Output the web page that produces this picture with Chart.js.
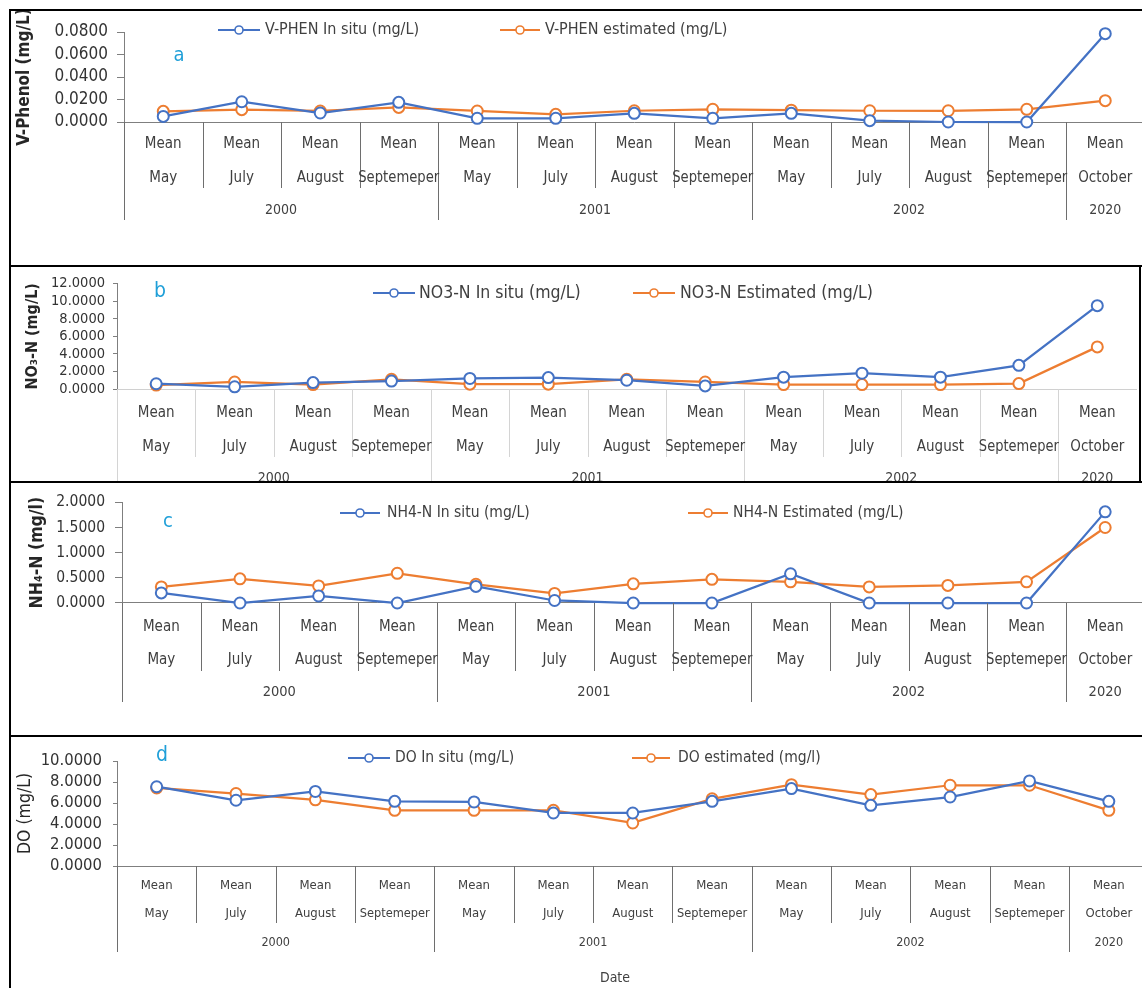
<!DOCTYPE html>
<html>
<head>
<meta charset="utf-8">
<script src="https://cdn.jsdelivr.net/npm/chart.js@4.4.1/dist/chart.umd.min.js"></script>
<style>
  html, body { margin: 0; padding: 0; background: #fff; width: 1142px; height: 988px; overflow: hidden; }
  canvas { position: absolute; left: 0; }
  .rule { position: absolute; background: #000; }
</style>
</head>
<body>
<canvas id="panelA" width="1152" height="254" style="top:11px"></canvas>
<canvas id="panelB" width="1144" height="214" style="top:267px"></canvas>
<canvas id="panelC" width="1152" height="252" style="top:483px"></canvas>
<canvas id="panelD" width="1156" height="251" style="top:737px"></canvas>

<div class="rule" style="left:9px;top:9px;width:1133px;height:2px"></div>
<div class="rule" style="left:9px;top:265px;width:1133px;height:2px"></div>
<div class="rule" style="left:9px;top:481px;width:1133px;height:2px"></div>
<div class="rule" style="left:9px;top:735px;width:1133px;height:2px"></div>
<div class="rule" style="left:9px;top:9px;width:2px;height:979px"></div>
<div class="rule" style="left:1139px;top:265px;width:2px;height:218px"></div>

<script>
// Sampling periods: one mean value per month, grouped by year
const statLabel = 'Mean';
const months = ['May', 'July', 'August', 'Septemeper', 'May', 'July', 'August', 'Septemeper',
                'May', 'July', 'August', 'Septemeper', 'October'];
const years = ['2000', '2000', '2000', '2000', '2001', '2001', '2001', '2001',
               '2002', '2002', '2002', '2002', '2020'];

// (a) volatile phenol, mg/L
const vphenInSitu = [0.0050, 0.0180, 0.0080, 0.0175, 0.0033, 0.0033, 0.0077, 0.0033, 0.0077, 0.0012, 0.0000, 0.0000, 0.0785];
const vphenEstimated = [0.0095, 0.0110, 0.0098, 0.0130, 0.0098, 0.0068, 0.0100, 0.0113, 0.0105, 0.0100, 0.0100, 0.0113, 0.0190];

// (b) nitrate nitrogen, mg/L
const no3InSitu = [0.60, 0.25, 0.73, 0.90, 1.20, 1.30, 1.00, 0.35, 1.35, 1.80, 1.35, 2.70, 9.50];
const no3Estimated = [0.45, 0.80, 0.50, 1.10, 0.55, 0.55, 1.10, 0.80, 0.50, 0.50, 0.50, 0.62, 4.80];

// (c) ammonium nitrogen, mg/L
const nh4InSitu = [0.20, 0.00, 0.14, 0.00, 0.33, 0.05, 0.00, 0.00, 0.58, 0.00, 0.00, 0.00, 1.81];
const nh4Estimated = [0.32, 0.48, 0.34, 0.59, 0.37, 0.19, 0.38, 0.47, 0.42, 0.32, 0.35, 0.42, 1.50];

// (d) dissolved oxygen, mg/L
const doInSitu = [7.55, 6.26, 7.10, 6.16, 6.10, 5.05, 5.05, 6.16, 7.37, 5.78, 6.57, 8.10, 6.16];
const doEstimated = [7.43, 6.90, 6.30, 5.30, 5.30, 5.30, 4.10, 6.40, 7.75, 6.80, 7.69, 7.69, 5.30];

// Value axis ranges
const yMaxA = 0.08, yStepA = 0.02;
const yMaxB = 12, yStepB = 2;
const yMaxC = 2, yStepC = 0.5;
const yMaxD = 10, yStepD = 2;

const FONT = "'DejaVu Sans Condensed', 'DejaVu Sans', sans-serif";
const BLUE = '#4472C4';
const ORANGE = '#ED7D31';
const TEXT = '#404040';

// Draws the grouped category axis (Mean / month / year), the legend and panel letter
const decor = {
  id: 'decor',
  afterDraw(chart, args, o) {
    const ctx = chart.ctx;
    const xs = chart.scales.x;
    const base = xs.top;
    const n = chart.data.labels.length;
    const step = xs.getPixelForValue(1) - xs.getPixelForValue(0);
    ctx.save();

    // separators between categories; longer at year boundaries
    ctx.strokeStyle = o.sepColor;
    ctx.lineWidth = 1;
    for (let i = 0; i < n; i++) {
      const bx = Math.round(xs.getPixelForValue(i) - step / 2) + 0.5;
      const newYear = i === 0 || years[i] !== years[i - 1];
      ctx.beginPath();
      ctx.moveTo(bx, base);
      ctx.lineTo(bx, base + (newYear ? o.yearSep : o.monthSep));
      ctx.stroke();
    }

    // category labels
    ctx.fillStyle = TEXT;
    ctx.textAlign = 'center';
    ctx.textBaseline = 'middle';
    ctx.font = o.catSize + 'px ' + FONT;
    chart.data.labels.forEach((lab, i) => {
      const cx = xs.getPixelForValue(i);
      ctx.fillText(lab[0], cx, base + o.row1, o.maxW);
      ctx.fillText(lab[1], cx, base + o.row2, o.maxW);
    });

    // year labels centred under their group
    ctx.font = o.yearSize + 'px ' + FONT;
    let s = 0;
    for (let i = 1; i <= n; i++) {
      if (i === n || years[i] !== years[s]) {
        const cx = (xs.getPixelForValue(s) + xs.getPixelForValue(i - 1)) / 2;
        ctx.fillText(years[s], cx, base + o.row3);
        s = i;
      }
    }

    // legend
    ctx.textAlign = 'left';
    ctx.font = o.legendSize + 'px ' + FONT;
    o.legend.forEach((it, k) => {
      const ds = chart.data.datasets[k];
      const y = o.legendY;
      ctx.strokeStyle = ds.borderColor;
      ctx.lineWidth = 2;
      ctx.beginPath();
      ctx.moveTo(it.x0, y);
      ctx.lineTo(it.x1, y);
      ctx.stroke();
      ctx.beginPath();
      ctx.arc((it.x0 + it.x1) / 2, y, 4, 0, Math.PI * 2);
      ctx.fillStyle = '#fff';
      ctx.fill();
      ctx.lineWidth = 1.6;
      ctx.stroke();
      ctx.fillStyle = TEXT;
      ctx.fillText(ds.label, it.tx, y);
    });

    // panel letter
    ctx.textAlign = 'center';
    ctx.fillStyle = '#1f9fd8';
    ctx.font = o.letterSize + 'px ' + FONT;
    ctx.fillText(o.letter, o.letterX, o.letterY);

    // additional captions
    (o.extra || []).forEach(t => {
      ctx.fillStyle = TEXT;
      ctx.font = t.size + 'px ' + FONT;
      ctx.fillText(t.text, t.x, t.y);
    });
    ctx.restore();
  }
};

function series(label, values, color) {
  return {
    label: label,
    data: values,
    borderColor: color,
    backgroundColor: color,
    borderWidth: 2.25,
    tension: 0,
    pointRadius: 5.5,
    pointBorderWidth: 2,
    pointBackgroundColor: '#ffffff',
    pointBorderColor: color,
    clip: false
  };
}

function makePanel(id, inSitu, estimated, names, c) {
  const canvas = document.getElementById(id);
  return new Chart(canvas, {
    type: 'line',
    data: {
      labels: months.map(m => [statLabel, m]),
      datasets: [series(names[0], inSitu, BLUE), series(names[1], estimated, ORANGE)]
    },
    options: {
      responsive: false,
      animation: false,
      events: [],
      layout: { padding: { top: c.top, left: 0, right: 0, bottom: 0 } },
      plugins: {
        legend: { display: false },
        tooltip: { enabled: false },
        decor: c.decor
      },
      scales: {
        x: {
          type: 'category',
          offset: true,
          grid: { display: false },
          ticks: { display: false },
          border: { display: true, color: c.xAxisColor, width: 1 },
          afterFit: s => { s.height = canvas.height - c.axisY; }
        },
        y: {
          min: 0,
          max: c.max,
          ticks: {
            stepSize: c.step,
            autoSkip: false,
            callback: v => Number(v).toFixed(4),
            font: { family: FONT, size: c.tickSize },
            color: '#333333',
            padding: c.tickPad
          },
          grid: { drawOnChartArea: false, drawTicks: true, tickLength: c.tickLen, color: '#7f7f7f' },
          border: { display: true, color: '#7f7f7f', width: 1 },
          title: {
            display: true,
            text: c.title,
            color: '#262626',
            font: { family: FONT, size: c.titleSize, weight: c.bold ? 'bold' : 'normal' },
            padding: { top: c.titleX - c.titleSize * 0.6, bottom: 0 }
          },
          afterFit: s => { s.width = c.axisX; }
        }
      }
    },
    plugins: [decor]
  });
}

makePanel('panelA', vphenInSitu, vphenEstimated,
  ['V-PHEN In situ (mg/L)', 'V-PHEN estimated (mg/L)'], {
  top: 21, axisY: 111, axisX: 124, max: yMaxA, step: yStepA,
  tickSize: 17, tickPad: 9, tickLen: 7, xAxisColor: '#7f7f7f',
  title: 'V-Phenol (mg/L)', bold: true, titleX: 25, titleSize: 17,
  decor: {
    sepColor: '#6e6e6e', monthSep: 66, yearSep: 98,
    row1: 22, row2: 56, row3: 88, catSize: 15, yearSize: 14, maxW: 81,
    legendY: 19, legendSize: 16,
    legend: [{ x0: 218, x1: 260, tx: 265 }, { x0: 500, x1: 540, tx: 545 }],
    letter: 'a', letterX: 179, letterY: 45, letterSize: 20
  }
});

makePanel('panelB', no3InSitu, no3Estimated,
  ['NO3-N In situ (mg/L)', 'NO3-N Estimated (mg/L)'], {
  top: 12, axisY: 122, axisX: 117, max: yMaxB, step: yStepB,
  tickSize: 14.5, tickPad: 8, tickLen: 4, xAxisColor: '#d0d0d0',
  title: 'NO\u2083-N (mg/L)', bold: true, titleX: 33, titleSize: 16,
  decor: {
    sepColor: '#d4d4d4', monthSep: 68, yearSep: 93,
    row1: 24, row2: 58, row3: 89, catSize: 15, yearSize: 14, maxW: 80,
    legendY: 26, legendSize: 17.5,
    legend: [{ x0: 373, x1: 415, tx: 419 }, { x0: 633, x1: 675, tx: 680 }],
    letter: 'b', letterX: 160, letterY: 25, letterSize: 21
  }
});

makePanel('panelC', nh4InSitu, nh4Estimated,
  ['NH4-N In situ (mg/L)', 'NH4-N Estimated (mg/L)'], {
  top: 13, axisY: 120, axisX: 122, max: yMaxC, step: yStepC,
  tickSize: 15.5, tickPad: 10, tickLen: 7, xAxisColor: '#7f7f7f',
  title: 'NH\u2084-N (mg/l)', bold: true, titleX: 37, titleSize: 17.5,
  decor: {
    sepColor: '#6e6e6e', monthSep: 68, yearSep: 99,
    row1: 24, row2: 57, row3: 89, catSize: 15, yearSize: 14.5, maxW: 81,
    legendY: 30, legendSize: 15.5,
    legend: [{ x0: 340, x1: 380, tx: 387 }, { x0: 688, x1: 728, tx: 733 }],
    letter: 'c', letterX: 168, letterY: 39, letterSize: 20
  }
});

makePanel('panelD', doInSitu, doEstimated,
  ['DO In situ (mg/L)', 'DO estimated (mg/l)'], {
  top: 24, axisY: 129, axisX: 117, max: yMaxD, step: yStepD,
  tickSize: 16.5, tickPad: 11, tickLen: 4, xAxisColor: '#7f7f7f',
  title: 'DO (mg/L)', bold: false, titleX: 25, titleSize: 17.5,
  decor: {
    sepColor: '#6e6e6e', monthSep: 57, yearSep: 86,
    row1: 20, row2: 48, row3: 77, catSize: 13, yearSize: 12.5, maxW: 70,
    legendY: 21, legendSize: 15.5,
    legend: [{ x0: 348, x1: 390, tx: 395 }, { x0: 632, x1: 670, tx: 678 }],
    letter: 'd', letterX: 162, letterY: 19, letterSize: 21,
    extra: [{ text: 'Date', x: 615, y: 241, size: 14 }]
  }
});
</script>
</body>
</html>
